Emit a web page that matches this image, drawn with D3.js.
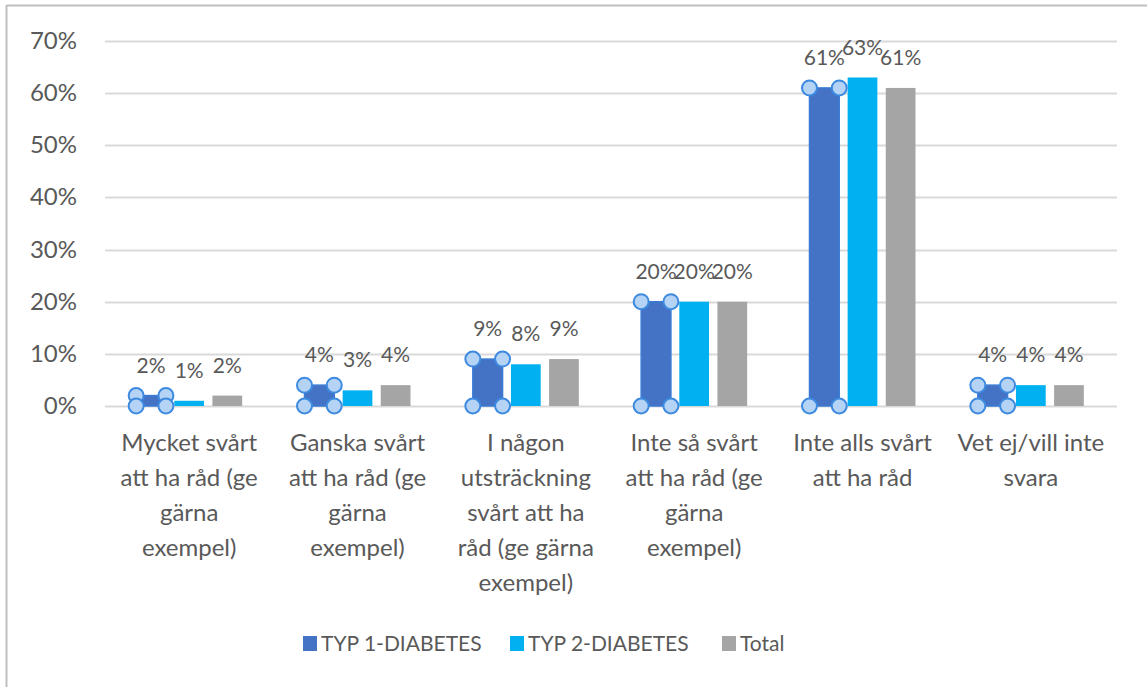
<!DOCTYPE html>
<html>
<head>
<meta charset="utf-8">
<script src="https://cdn.jsdelivr.net/npm/d3@7"></script>
<style>
  body { margin: 0; background: #fff; }
  svg text { font-family: Lato, "Noto Sans", sans-serif; fill: #595959; }
</style>
</head>
<body>
<svg id="chart" width="1147" height="687"></svg>
<script>
// categories (wrapped the way the reference shows them)
var categories = [
  ["Mycket svårt", "att ha råd (ge", "gärna", "exempel)"],
  ["Ganska svårt", "att ha råd (ge", "gärna", "exempel)"],
  ["I någon", "utsträckning", "svårt att ha", "råd (ge gärna", "exempel)"],
  ["Inte så svårt", "att ha råd (ge", "gärna", "exempel)"],
  ["Inte alls svårt", "att ha råd"],
  ["Vet ej/vill inte", "svara"]
];
var seriesNames = ["TYP 1-DIABETES", "TYP 2-DIABETES", "Total"];
var typ1 = [0.02, 0.04, 0.09, 0.20, 0.61, 0.04];
var typ2 = [0.01, 0.03, 0.08, 0.20, 0.63, 0.04];
var total = [0.02, 0.04, 0.09, 0.20, 0.61, 0.04];
var yTicks = [0, 0.1, 0.2, 0.3, 0.4, 0.5, 0.6, 0.7];
var colors = ["#4472C4", "#00B0F0", "#A5A5A5"];

var values = [typ1, typ2, total];
var svg = d3.select('#chart');

// outer frame (only top and left edges are visible in the shot)
svg.append('line').attr('x1', 6.5).attr('x2', 1147).attr('y1', 5.5).attr('y2', 5.5)
  .attr('stroke', '#bfbfbf').attr('stroke-width', 2);
svg.append('line').attr('x1', 6.5).attr('x2', 6.5).attr('y1', 5).attr('y2', 687)
  .attr('stroke', '#bfbfbf').attr('stroke-width', 2);

var x0 = d3.scaleBand().domain(d3.range(categories.length)).range([105, 1115]);
var groupW = 106;
var x1 = d3.scaleBand().domain(d3.range(3))
  .range([(x0.bandwidth() - groupW) / 2, (x0.bandwidth() + groupW) / 2])
  .paddingInner(0.22);
var y = d3.scaleLinear().domain([0, 0.7]).range([406, 41]);
var fmt = d3.format('.0%');
var fs = 24;

// gridlines
svg.append('g').selectAll('line').data(yTicks).join('line')
  .attr('x1', 105).attr('x2', 1117)
  .attr('y1', d => Math.round(y(d)) + 0.5).attr('y2', d => Math.round(y(d)) + 0.5)
  .attr('stroke', '#d9d9d9').attr('stroke-width', 2);

// y labels
svg.append('g').selectAll('text').data(yTicks).join('text')
  .attr('x', 77).attr('y', d => y(d) + 8)
  .attr('text-anchor', 'end').attr('font-size', fs)
  .text(d => fmt(d));

// bars
var groups = svg.append('g').selectAll('g').data(categories).join('g')
  .attr('transform', (d, i) => 'translate(' + x0(i) + ',0)');

groups.each(function (c, ci) {
  var g = d3.select(this);
  values.forEach(function (vals, si) {
    var v = vals[ci];
    g.append('rect')
      .attr('x', x1(si)).attr('width', x1.bandwidth())
      .attr('y', y(v)).attr('height', y(0) - y(v))
      .attr('fill', colors[si])
      .attr('stroke', si === 0 ? '#3a7bd5' : 'none')
      .attr('stroke-width', si === 0 ? 1.5 : 0);
    g.append('text')
      .attr('x', x1(si) + x1.bandwidth() / 2)
      .attr('y', y(v) - 23)
      .attr('text-anchor', 'middle').attr('font-size', 21)
      .text(fmt(v));
  });
  // selection handles on the first series
  var v0 = typ1[ci];
  var xa = x1(0), xb = x1(0) + x1.bandwidth();
  [[xa, y(v0)], [xb, y(v0)], [xa, y(0)], [xb, y(0)]].forEach(function (p) {
    g.append('circle').attr('cx', p[0]).attr('cy', p[1]).attr('r', 7.5)
      .attr('fill', '#b4d3f5').attr('stroke', '#3d8ae0').attr('stroke-width', 2);
  });
});

// category labels
groups.append('text')
  .attr('text-anchor', 'middle').attr('font-size', fs)
  .selectAll('tspan').data(d => d).join('tspan')
  .attr('x', x0.bandwidth() / 2)
  .attr('y', (d, i) => 451 + i * 35)
  .text(d => d);

// legend
var legendX = [303, 510, 722];
var legend = svg.append('g').selectAll('g').data(seriesNames).join('g')
  .attr('transform', (d, i) => 'translate(' + legendX[i] + ',636)');
legend.append('rect').attr('width', 14).attr('height', 15).attr('fill', (d, i) => colors[i]);
legend.append('text').attr('x', 18).attr('y', 15).attr('font-size', 21).text(d => d);
</script>
</body>
</html>
